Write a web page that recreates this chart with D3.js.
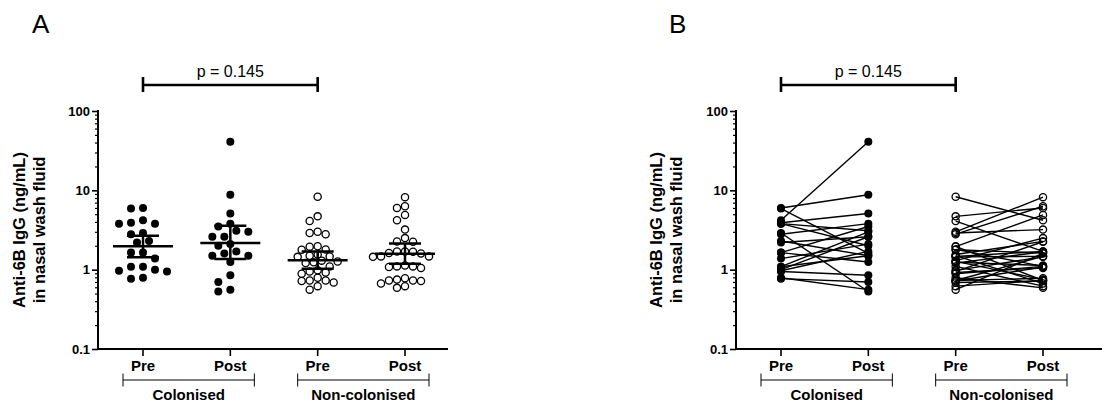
<!DOCTYPE html>
<html>
<head>
<meta charset="utf-8">
<script src="https://cdn.jsdelivr.net/npm/d3@7"></script>
<style>
  body { margin: 0; background: #fff; }
  svg { display: block; font-family: "Liberation Sans", Arial, sans-serif; }
</style>
</head>
<body>
<svg id="chart" width="1102" height="405"></svg>
<script>
// values (ng/mL), pre/post arrays are paired by index
const categories = ["Pre", "Post", "Pre", "Post"];
const groups = ["Colonised", "Non-colonised"];
const colPre  = [6.0, 5.9, 4.2, 3.9, 3.8, 3.8, 2.9, 2.8, 2.3, 2.2, 1.64, 1.64, 1.38, 1.09, 1.09, 1.0, 0.97, 0.95, 0.79, 0.77];
const colPost = [8.8, 1.6, 41, 5.1, 3.1, 2.0, 0.53, 3.8, 1.5, 2.6, 3.5, 1.25, 2.1, 3.0, 1.5, 2.6, 1.7, 0.85, 0.56, 0.7];
const ncPre  = [8.3, 4.7, 4.1, 3.0, 2.9, 2.8, 1.97, 1.95, 1.8, 1.78, 1.55, 1.5, 1.47, 1.45, 1.3, 1.27, 1.24, 1.21, 1.1, 0.98, 0.95, 0.92, 0.89, 0.79, 0.73, 0.73, 0.72, 0.69, 0.62, 0.56];
const ncPost = [4.2, 6.0, 1.7, 8.2, 3.2, 6.3, 0.73, 4.9, 1.1, 1.62, 2.27, 0.67, 1.7, 1.47, 2.5, 0.75, 1.13, 1.68, 0.62, 1.45, 2.25, 1.05, 1.1, 0.59, 1.47, 0.78, 1.08, 0.72, 0.73, 1.6];
const medians = [1.97, 2.17, 1.31, 1.59];
const upperBars = [2.68, 3.59, 1.70, 2.13];
const lowerBars = [1.43, 1.36, 1.03, 1.19];
const yTicks = [0.1, 1, 10, 100];
const pText = "p = 0.145";

const series = [colPre, colPost, ncPre, ncPost];
const filled = [true, true, false, false];

const svg = d3.select("#chart");
const R = 4;

// simple dot-plot layout: nearest free horizontal slot
function swarm(vals, cx, y, step, minDist) {
  const placed = [];
  const order = vals.map((v, i) => i).sort((a, b) => vals[b] - vals[a]);
  const offs = [0];
  for (let k = 1; k < 14; k++) offs.push(-step * k, step * k);
  order.forEach(i => {
    const py = y(vals[i]);
    for (const o of offs) {
      const px = cx + o;
      if (placed.every(p => Math.hypot(p.x - px, p.y - py) >= minDist)) {
        placed.push({ x: px, y: py, v: vals[i] });
        break;
      }
    }
  });
  return placed;
}

function drawPanel(p) {
  const g = svg.append("g");
  const y = d3.scaleLog().domain([0.1, 100]).range([349, 111]);
  const x = d3.scaleLinear().domain([0, 3]).range([p.x0, p.x0 + 262]);

  // panel letter
  g.append("text").attr("x", p.letterX).attr("y", 33).attr("font-size", 26).text(p.letter);

  // y axis
  const minor = [];
  [0.1, 1, 10].forEach(d => { for (let k = 2; k <= 9; k++) minor.push(d * k); });
  g.append("g").attr("transform", `translate(${p.axisX},0)`)
    .call(d3.axisLeft(y).tickValues(minor).tickSize(3).tickFormat(""))
    .call(s => s.select(".domain").remove())
    .call(s => s.selectAll("line").attr("stroke-width", 1.2));
  g.append("g").attr("transform", `translate(${p.axisX},0)`)
    .call(d3.axisLeft(y).tickValues(yTicks).tickSize(6).tickPadding(2).tickFormat(d => d >= 1 ? d3.format("d")(d) : d))
    .call(s => s.select(".domain").attr("stroke-width", 2).attr("d", `M0,${y(100) - 1}V${y(0.1) + 1}`))
    .call(s => s.selectAll("line").attr("stroke-width", 1.6))
    .call(s => s.selectAll("text").attr("font-size", 13).attr("font-weight", "bold").attr("fill", "#000")
      .attr("font-family", "Liberation Sans, Arial, sans-serif"));

  // x axis
  g.append("line").attr("x1", p.axisX).attr("x2", p.xEnd).attr("y1", y(0.1)).attr("y2", y(0.1))
    .attr("stroke", "#000").attr("stroke-width", 2);
  categories.forEach((c, i) => {
    g.append("line").attr("x1", x(i)).attr("x2", x(i)).attr("y1", y(0.1)).attr("y2", y(0.1) + 7)
      .attr("stroke", "#000").attr("stroke-width", 1.6);
    g.append("text").attr("x", x(i)).attr("y", 371).attr("text-anchor", "middle")
      .attr("font-size", 15).attr("font-weight", "bold").text(c);
  });
  groups.forEach((gr, j) => {
    const a = x(2 * j) - 20, b = x(2 * j + 1) + 24;
    g.append("path").attr("d", `M${a},373.5V386.5M${a},380H${b}M${b},373.5V386.5`)
      .attr("fill", "none").attr("stroke", "#000").attr("stroke-width", 1);
    g.append("text").attr("x", (a + b) / 2).attr("y", 400).attr("text-anchor", "middle")
      .attr("font-size", 15).attr("font-weight", "bold").text(gr);
  });

  // y title
  const t = g.append("text").attr("transform", `translate(${p.titleX},230) rotate(-90)`)
    .attr("text-anchor", "middle").attr("font-size", 16.5).attr("font-weight", "bold");
  t.append("tspan").attr("x", 0).attr("dy", 0).text("Anti-6B IgG (ng/mL)");
  t.append("tspan").attr("x", 0).attr("dy", 20).text("in nasal wash fluid");

  // p-value bracket
  g.append("path").attr("d", `M${x(0)},77V92M${x(0)},85H${x(2)}M${x(2)},77V92`)
    .attr("fill", "none").attr("stroke", "#000").attr("stroke-width", 2.6);
  g.append("text").attr("x", (x(0) + x(2)) / 2).attr("y", 77).attr("text-anchor", "middle")
    .attr("font-size", 16).text(pText);

  p.draw(g, x, y);
}

// Panel A: scatter dot plot with median and error bars
drawPanel({
  letter: "A", letterX: 32, axisX: 98, xEnd: 448, x0: 143, titleX: 25,
  draw: (g, x, y) => {
    series.forEach((vals, i) => {
      const pts = filled[i] ? swarm(vals, x(i), y, 6, 2 * R + 1.2) : swarm(vals, x(i), y, 4, 7.2);
      g.append("g").selectAll("circle").data(pts).join("circle")
        .attr("cx", d => d.x).attr("cy", d => d.y).attr("r", filled[i] ? R : R - 0.4)
        .attr("fill", filled[i] ? "#000" : "none")
        .attr("stroke", "#000").attr("stroke-width", filled[i] ? 0 : 1.3);
    });
    categories.forEach((c, i) => {
      const cx = x(i);
      g.append("line").attr("x1", cx - 30).attr("x2", cx + 30).attr("y1", y(medians[i])).attr("y2", y(medians[i]))
        .attr("stroke", "#000").attr("stroke-width", 2.5);
      g.append("path")
        .attr("d", `M${cx},${y(upperBars[i])}V${y(lowerBars[i])}M${cx - 16},${y(upperBars[i])}H${cx + 16}M${cx - 16},${y(lowerBars[i])}H${cx + 16}`)
        .attr("fill", "none").attr("stroke", "#000").attr("stroke-width", 2.5);
    });
  }
});

// Panel B: paired before/after lines
drawPanel({
  letter: "B", letterX: 669, axisX: 736, xEnd: 1102, x0: 781, titleX: 662,
  draw: (g, x, y) => {
    [[colPre, colPost, 0, true], [ncPre, ncPost, 2, false]].forEach(([pre, post, i, fill]) => {
      g.append("g").selectAll("line").data(pre).join("line")
        .attr("x1", x(i)).attr("x2", x(i + 1))
        .attr("y1", d => y(d)).attr("y2", (d, k) => y(post[k]))
        .attr("stroke", "#000").attr("stroke-width", 1.4);
      [[pre, i], [post, i + 1]].forEach(([vals, idx]) => {
        g.append("g").selectAll("circle").data(vals).join("circle")
          .attr("cx", x(idx)).attr("cy", d => y(d)).attr("r", fill ? R : R - 0.4)
          .attr("fill", fill ? "#000" : "none")
          .attr("stroke", "#000").attr("stroke-width", fill ? 0 : 1.3);
      });
    });
  }
});
</script>
</body>
</html>
